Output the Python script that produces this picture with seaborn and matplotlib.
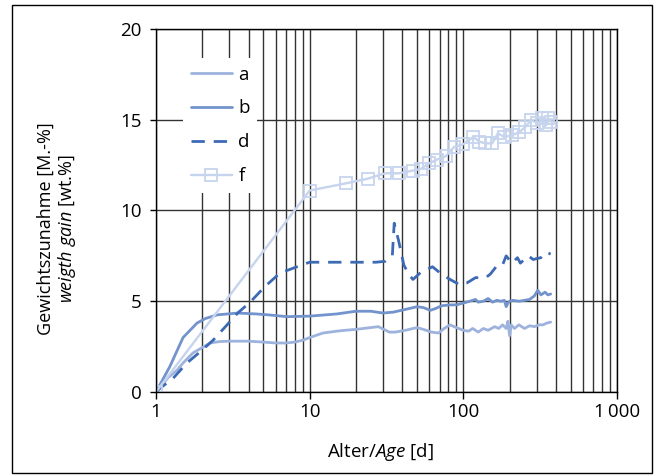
import matplotlib
matplotlib.use("Agg")
import matplotlib.pyplot as plt
import matplotlib.patches as patches
from matplotlib.ticker import FixedLocator, NullFormatter
import seaborn as sns
import pandas as pd

sns.set_theme(style="white")
plt.rcParams['font.family'] = ['Open Sans', 'DejaVu Sans']
plt.rcParams['mathtext.fontset'] = 'custom'
plt.rcParams['mathtext.rm'] = 'Open Sans'
plt.rcParams['mathtext.it'] = 'Open Sans:italic'

# ---- data ----
a_x = [1, 1.2, 1.37, 1.5, 1.74, 2, 2.25, 2.6, 3, 4, 5, 6, 7, 8, 9, 10, 12.2, 15, 17, 20, 25, 28, 33, 36,
       42, 50, 55, 62, 69, 75, 82, 90, 100, 108, 115, 125, 135, 145, 160, 170, 180, 190, 195, 200,
       205, 215, 230, 250, 270, 290, 310, 330, 350, 370]
a_y = [0, 0.8, 1.2, 1.6, 2.15, 2.45, 2.7, 2.78, 2.8, 2.8, 2.75, 2.7, 2.7, 2.75, 2.85, 3.0, 3.25, 3.35, 3.4,
       3.45, 3.55, 3.6, 3.3, 3.3, 3.4, 3.55, 3.45, 3.3, 3.25, 3.5, 3.7, 3.55, 3.4, 3.35, 3.5, 3.3, 3.5,
       3.4, 3.6, 3.5, 3.7, 3.5, 3.9, 3.1, 3.7, 3.5, 3.7, 3.5, 3.65, 3.6, 3.7, 3.7, 3.8, 3.85]

b_x = [1, 1.23, 1.5, 1.85, 2.1, 2.5, 3.4, 4.5, 5.4, 7.1, 10, 15, 20, 25, 30, 35, 42, 50, 55, 61, 66, 72,
       82, 90, 100, 110, 120, 125, 135, 145, 155, 165, 175, 185, 190, 195, 200, 210, 230, 250, 270,
       290, 305, 320, 340, 355, 370]
b_y = [0, 1.4, 3.0, 3.8, 4.05, 4.25, 4.35, 4.3, 4.25, 4.15, 4.18, 4.3, 4.45, 4.45, 4.35, 4.4, 4.55,
       4.7, 4.65, 4.5, 4.6, 4.75, 4.8, 4.8, 4.9, 5.0, 5.1, 4.95, 5.0, 5.15, 4.95, 5.05, 5.0, 5.05, 4.7,
       4.9, 5.0, 5.05, 5.0, 5.05, 5.1, 5.3, 5.6, 5.35, 5.5, 5.35, 5.4]

d_x = [1, 1.06, 1.29, 1.59, 1.93, 2.35, 2.9, 3.4, 4.1, 5.1, 6.4, 8.9, 10, 15, 20, 27, 31, 33, 34.5,
       35.5, 38, 41, 44, 47, 53, 63, 72, 82, 95, 105, 120, 140, 150, 167, 180, 190, 207, 225, 235,
       250, 265, 285, 300, 320, 345, 370]
d_y = [0, 0.2, 0.75, 1.6, 2.2, 2.85, 3.7, 4.35, 4.95, 5.8, 6.55, 7.0, 7.15, 7.15, 7.15, 7.15, 7.2,
       7.4, 7.5, 9.3, 8.3, 7.0, 6.5, 6.2, 6.6, 6.9, 6.5, 6.2, 5.9, 6.0, 6.3, 6.3, 6.5, 7.0, 7.0, 7.5,
       7.1, 7.4, 7.1, 7.3, 7.5, 7.3, 7.35, 7.4, 7.7, 7.6]

f_x = [1, 10, 17.3, 23.8, 31, 38, 47, 53, 60, 67, 77, 87, 100, 116, 127, 139, 154, 168, 185, 208,
       230, 253, 277, 303, 325, 345, 355, 370]
f_y = [0, 11.1, 11.5, 11.75, 12.05, 12.05, 12.2, 12.3, 12.6, 12.8, 13.0, 13.5, 13.65, 14.05, 13.8,
       13.7, 13.7, 14.25, 14.05, 14.15, 14.3, 14.6, 15.0, 14.8, 15.1, 14.7, 15.1, 14.9]

x_ticks = [1, 10, 100, 1000]
x_labels = ["1", "10", "100", "1\u2009000"]
y_ticks = [0, 5, 10, 15, 20]

col_a = "#9db3dd"
col_b = "#7393cc"
col_d = "#3d6ab4"
col_f = "#c6d4ee"

W, H = 654, 475
fig = plt.figure(figsize=(W / 100, H / 100), dpi=100)
ax = fig.add_axes([156 / W, 1 - 392 / H, (617 - 156) / W, (392 - 29) / H])

sns.lineplot(x=a_x, y=a_y, ax=ax, color=col_a, lw=2.0, sort=False, estimator=None, label="a")
sns.lineplot(x=b_x, y=b_y, ax=ax, color=col_b, lw=2.0, sort=False, estimator=None, label="b")
sns.lineplot(x=d_x, y=d_y, ax=ax, color=col_d, lw=2.0, sort=False, estimator=None, label="d",
             dashes=False)
ax.lines[-1].set_dashes((4.8, 3.2))
sns.lineplot(x=f_x, y=f_y, ax=ax, color=col_f, lw=1.7, sort=False, estimator=None, label="f",
             marker="s", markersize=8, markerfacecolor="none", markeredgecolor=col_f,
             markeredgewidth=1.3)

ax.set_xscale("log")
ax.set_xlim(1, 1000)
ax.set_ylim(0, 20)
ax.xaxis.set_major_locator(FixedLocator(x_ticks))
ax.set_xticklabels(x_labels)
minors = [m * 10 ** e for e in range(0, 3) for m in range(2, 10)]
ax.xaxis.set_minor_locator(FixedLocator(minors))
ax.xaxis.set_minor_formatter(NullFormatter())
ax.set_yticks(y_ticks)

ax.grid(which="both", axis="x", color="#333333", lw=1.0)
ax.grid(which="major", axis="y", color="#333333", lw=1.0)
ax.set_axisbelow(True)
for s in ax.spines.values():
    s.set_color("black")
    s.set_linewidth(1.0)
    s.set_visible(True)

ax.tick_params(axis="x", which="major", direction="out", length=5, width=1, color="black",
               labelsize=13.5, pad=3, bottom=True)
ax.tick_params(axis="x", which="minor", length=0)
ax.tick_params(axis="y", which="major", direction="out", length=4.3, width=1, color="black",
               labelsize=13.5, pad=6, left=True)
for t in ax.get_xticklabels() + ax.get_yticklabels():
    t.set_color("black")

ax.set_xlabel("")
ax.set_ylabel("")

leg = ax.legend(loc="upper left", bbox_to_anchor=((183 - 156) / 461, (392 - 58) / 363),
                borderaxespad=0, frameon=True, fancybox=False, framealpha=1, edgecolor="white",
                facecolor="white", fontsize=13.5, handlelength=2.2, handletextpad=0.35,
                labelspacing=0.85, borderpad=0.4)
leg.get_frame().set_linewidth(0)
for t in leg.get_texts():
    t.set_color("black")

fig.text(381 / W, 1 - 452 / H, "Alter/$\\mathit{Age}$ [d]", ha="center", va="center", fontsize=13.5,
         color="black")
fig.text(46 / W, 1 - 229 / H, "Gewichtszunahme [M.-%]", rotation=90, ha="center", va="center",
         fontsize=13, color="black")
fig.text(67 / W, 1 - 229 / H, "$\\mathit{weigth\\ gain}$ [wt.%]", rotation=90, ha="center",
         va="center", fontsize=13, color="black")

fig.patches.append(patches.Rectangle((12 / W, 1 - 473 / H), (652 - 12) / W, (473 - 5) / H,
                                     transform=fig.transFigure, fill=False, edgecolor="black",
                                     lw=1.0))

fig.savefig("out.png", dpi=100)
